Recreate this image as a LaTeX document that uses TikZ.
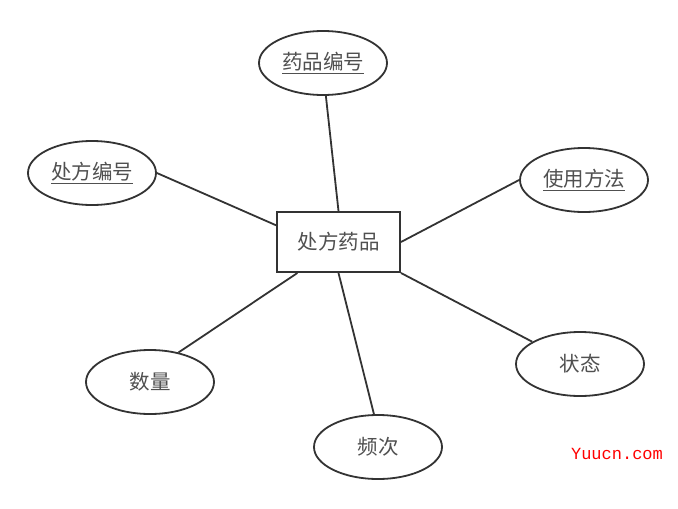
\documentclass[tikz,border=0pt]{standalone}
\usepackage{fontspec}
\usepackage{tikz}
\usetikzlibrary{shapes.geometric}
\newfontfamily\cjk{Noto Sans CJK SC}
\newfontfamily\wmfont{Liberation Mono}
\definecolor{linegray}{HTML}{333333}
\definecolor{textgray}{HTML}{505050}

\begin{document}
\begin{tikzpicture}[x=1pt, y=-1pt]
    \tikzstyle{entity}=[
        draw = linegray,
        line width = 2pt,
        fill = white,
        rectangle,
        minimum width = 123pt,
        minimum height = 60pt,
        inner sep = 0pt,
        text = textgray,
        font = \cjk\fontsize{20.5}{22}\selectfont
    ]
    \tikzstyle{attr}=[
        draw = linegray,
        line width = 1.8pt,
        fill = white,
        ellipse,
        minimum width = 128pt,
        minimum height = 64pt,
        inner sep = 0pt,
        text = textgray,
        font = \cjk\fontsize{20.5}{22}\selectfont
    ]
    \tikzstyle{link}=[-, line width = 1.8pt, draw = linegray]

    \useasboundingbox (0,0) rectangle (678,509);

	\node[entity] (rx)   at (338.5, 242) {处方药品};
	\node[attr]   (ypbh) at (323, 63)    {\underline{药品编号}};
	\node[attr]   (cfbh) at (92, 173)    {\underline{处方编号}};
	\node[attr]   (syff) at (584, 180)   {\underline{使用方法}};
	\node[attr]   (zt)   at (580, 364)   {状态};
	\node[attr]   (sl)   at (150, 382)   {数量};
	\node[attr]   (pc)   at (378, 447)   {频次};

	\draw[link] (ypbh.275) -- (rx.north);
	\draw[link] (cfbh.east) -- (rx.165);
	\draw[link] (syff.west) -- (rx.east);
	\draw[link] (zt.155)   -- (rx.south east);
	\draw[link] (sl.46)    -- (rx.217);
	\draw[link] (pc.97)    -- (rx.south);

    \node[text = red, font = \wmfont\fontsize{17}{18}\selectfont] (wm) at (617, 454) {Yuucn.com};

	\end{tikzpicture}
\end{document}
